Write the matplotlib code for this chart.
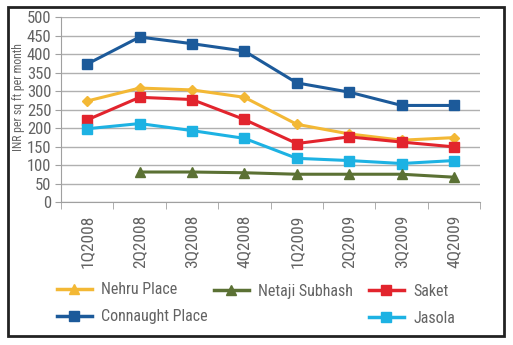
import numpy as np
import matplotlib.pyplot as plt
from matplotlib.lines import Line2D
from matplotlib.patches import Rectangle
from matplotlib import font_manager

# look for a narrow sans font, the original uses a Helvetica Narrow look
fonts = font_manager.fontManager.ttflist
pick = None
for want in ["Liberation Sans Narrow", "Roboto Condensed", "Open Sans Condensed", "DejaVu Sans"]:
    for f in fonts:
        if f.name == want and (want != "DejaVu Sans" or "ondensed" in f.fname):
            pick = f
            break
    if pick:
        break
if pick is None:
    for f in fonts:
        if "ondensed" in f.fname or "arrow" in f.fname:
            pick = f
            break
if pick is not None:
    plt.rcParams["font.family"] = [pick.name, "DejaVu Sans"]
    plt.rcParams["font.stretch"] = pick.stretch
else:
    plt.rcParams["font.family"] = ["Liberation Sans", "DejaVu Sans"]

quarters = ["1Q2008", "2Q2008", "3Q2008", "4Q2008", "1Q2009", "2Q2009", "3Q2009", "4Q2009"]
connaught = [374, 447, 429, 409, 323, 298, 262, 262]
nehru = [274, 309, 304, 284, 211, 185, 168, 175]
saket = [223, 284, 278, 224, 159, 177, 163, 150]
jasola = [199, 213, 194, 173, 119, 113, 105, 113]
netaji = [np.nan, 82, 82, 80, 76, 76, 76, 68]

c_conn = "#1c5a9a"
c_nehru = "#f3b835"
c_saket = "#e2242d"
c_jasola = "#1db2e3"
c_netaji = "#5b7134"
gray = "#636363"

fig = plt.figure(figsize=(5.13, 3.45), dpi=100)
ax = fig.add_axes([0.119, 0.4135, 0.817, 0.536])

x = np.arange(len(quarters))
lw = 2.2
ax.plot(x, connaught, color=c_conn, lw=lw, marker="s", ms=6.5)
ax.plot(x, nehru, color=c_nehru, lw=lw, marker="D", ms=5.5)
ax.plot(x, saket, color=c_saket, lw=lw, marker="s", ms=6.5)
ax.plot(x, jasola, color=c_jasola, lw=lw, marker="s", ms=6.5)
ax.plot(x, netaji, color=c_netaji, lw=lw, marker="^", ms=7)

ax.set_xlim(-0.5, len(quarters) - 0.5)
ax.set_ylim(0, 500)
ax.set_yticks(range(0, 501, 50))
ax.yaxis.grid(True, color="#b0b0b0", lw=1)
ax.set_axisbelow(True)
ax.set_xticks(x)
ax.set_xticklabels(quarters, rotation=90)
ax.set_xticks(np.arange(-0.5, len(quarters), 1), minor=True)
ax.tick_params(axis="x", which="major", length=0, pad=9, labelsize=12.5, labelcolor=gray)
ax.tick_params(axis="x", which="minor", length=5, color="#a0a0a0")
ax.tick_params(axis="y", length=4, color="#a0a0a0", pad=3, labelsize=12, labelcolor=gray)
for s in ["top", "right"]:
    ax.spines[s].set_visible(False)
for s in ["left", "bottom"]:
    ax.spines[s].set_color("#a0a0a0")
ax.set_ylabel("INR per sq ft per month", fontsize=8.5, color=gray, labelpad=1)
ax.yaxis.set_label_coords(-0.087, 0.57)

def handle(c, m):
    return Line2D([], [], color=c, lw=2.5, marker=m, ms=6.5)

legend_kw = dict(frameon=False, fontsize=11.5, labelcolor=gray, handlelength=2.2,
                 handletextpad=0.6, labelspacing=0.75, borderpad=0, loc="upper left")
fig.legend([handle(c_nehru, "^"), handle(c_conn, "s")], ["Nehru Place", "Connaught Place"],
           bbox_to_anchor=(0.095, 0.195, 0.01, 0.01), **legend_kw)
fig.legend([handle(c_netaji, "^")], ["Netaji Subhash"],
           bbox_to_anchor=(0.401, 0.19, 0.01, 0.01), **legend_kw)
fig.legend([handle(c_saket, "s"), handle(c_jasola, "s")], ["Saket", "Jasola"],
           bbox_to_anchor=(0.703, 0.19, 0.01, 0.01), **legend_kw)

fig.patches.append(Rectangle((8 / 513, 9 / 345), 496 / 513, 329 / 345, transform=fig.transFigure,
                             fill=False, ec="#222222", lw=2))

fig.savefig("out.png", dpi=100)
